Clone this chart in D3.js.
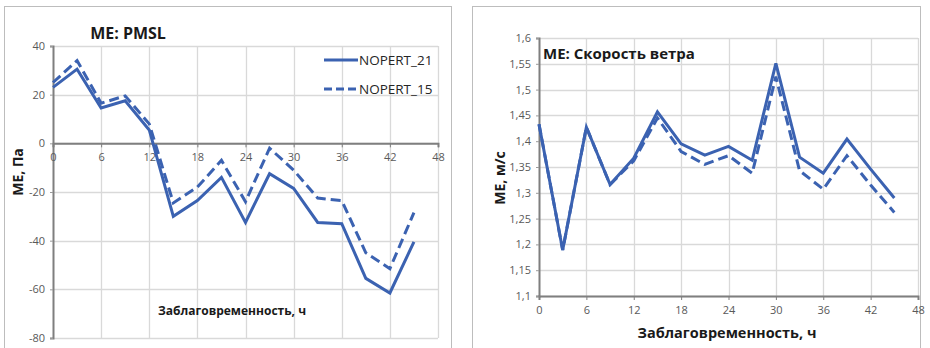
<!DOCTYPE html>
<html>
<head>
<meta charset="utf-8">
<script src="https://cdn.jsdelivr.net/npm/d3@7"></script>
<style>
  body { margin: 0; background: #fff; }
  svg { display: block; }
  text { font-family: "Open Sans", "DejaVu Sans", sans-serif; }
</style>
</head>
<body>
<svg id="chart" width="930" height="348"></svg>
<script>
// lead times, hours
const leadTimes = [0, 3, 6, 9, 12, 15, 18, 21, 24, 27, 30, 33, 36, 39, 42, 45];
const xTicks = [0, 6, 12, 18, 24, 30, 36, 42, 48];

// PMSL mean error, Pa
const pmsl21 = [23, 30.5, 14.5, 17.5, 5.5, -30, -23.5, -14, -32.5, -12.5, -18.5, -32.5, -33, -55.5, -61.5, -40.5];
const pmsl15 = [25, 34, 16.5, 19.5, 8, -24.5, -18, -7, -24, -2, -11, -22.5, -23.5, -45, -51.5, -28.5];
const pmslTicks = [40, 20, 0, -20, -40, -60, -80];

// wind speed mean error, m/s
const wind21 = [1.433, 1.189, 1.427, 1.316, 1.367, 1.457, 1.395, 1.373, 1.39, 1.363, 1.551, 1.369, 1.338, 1.404, 1.346, 1.29];
const wind15 = [1.433, 1.189, 1.427, 1.316, 1.362, 1.445, 1.38, 1.355, 1.372, 1.338, 1.525, 1.343, 1.307, 1.372, 1.315, 1.262];
const windTicks = [1.1, 1.15, 1.2, 1.25, 1.3, 1.35, 1.4, 1.45, 1.5, 1.55, 1.6];

const seriesNames = ["NOPERT_21", "NOPERT_15"];

const blue = "#3b62b1";
const fmtComma = d => String(d).replace(".", ",");

const svg = d3.select("#chart");

function drawChart(cfg) {
  const g = svg.append("g");

  // panel frame
  g.append("rect")
    .attr("x", cfg.frame[0] + 0.5).attr("y", cfg.frame[1] + 0.5)
    .attr("width", cfg.frame[2]).attr("height", cfg.frame[3])
    .attr("fill", "#fff").attr("stroke", "#bdbdbd");

  const x = d3.scaleLinear().domain([0, 48]).range([cfg.left, cfg.right]);
  const y = d3.scaleLinear().domain(cfg.yDomain).range([cfg.bottom, cfg.top]);

  // grid
  g.append("g").selectAll("line")
    .data(cfg.yTicks)
    .enter().append("line")
    .attr("x1", cfg.left).attr("x2", cfg.right)
    .attr("y1", d => Math.round(y(d)) + 0.5).attr("y2", d => Math.round(y(d)) + 0.5)
    .attr("stroke", "#d9d9d9").attr("stroke-width", 1.3);
  g.append("g").selectAll("line")
    .data(xTicks.slice(1))
    .enter().append("line")
    .attr("x1", d => Math.round(x(d)) + 0.5).attr("x2", d => Math.round(x(d)) + 0.5)
    .attr("y1", cfg.top).attr("y2", cfg.bottom)
    .attr("stroke", "#d9d9d9").attr("stroke-width", 1.3);

  // y axis
  const yAxis = g.append("g")
    .attr("transform", "translate(" + cfg.left + ",0)")
    .call(d3.axisLeft(y).tickValues(cfg.yTicks).tickSize(3).tickPadding(5).tickFormat(cfg.yFormat));
  yAxis.select(".domain").attr("stroke", "#7f7f7f").attr("stroke-width", 2);
  yAxis.selectAll(".tick line").attr("stroke", "#9a9a9a");
  yAxis.selectAll("text").attr("fill", "#595959").style("font-size", "11px")
    .style("font-family", "'Open Sans', sans-serif");

  // x axis
  const xAxis = g.append("g")
    .attr("transform", "translate(0," + y(cfg.xAxisAt) + ")")
    .call(d3.axisBottom(x).tickValues(xTicks).tickSize(4).tickPadding(6));
  xAxis.select(".domain").attr("stroke", "#7f7f7f").attr("stroke-width", 2);
  xAxis.selectAll(".tick line").attr("stroke", "#7f7f7f");
  xAxis.selectAll("text").attr("fill", "#595959").style("font-size", "11px")
    .style("font-family", "'Open Sans', sans-serif");

  // lines
  const line = d3.line()
    .x((d, i) => x(leadTimes[i]))
    .y(d => y(d));

  g.append("path")
    .datum(cfg.s15)
    .attr("d", line)
    .attr("fill", "none")
    .attr("stroke", blue)
    .attr("stroke-width", 3)
    .attr("stroke-dasharray", "10,5");

  g.append("path")
    .datum(cfg.s21)
    .attr("d", line)
    .attr("fill", "none")
    .attr("stroke", blue)
    .attr("stroke-width", 3)
    .attr("stroke-linejoin", "miter");

  // title
  g.append("text")
    .attr("x", cfg.titlePos[0]).attr("y", cfg.titlePos[1])
    .attr("text-anchor", cfg.titleAnchor)
    .style("font-size", cfg.titleSize).style("font-weight", "bold")
    .attr("fill", "#1a1a1a")
    .text(cfg.title);

  // axis titles
  g.append("text")
    .attr("x", cfg.xLabelPos[0]).attr("y", cfg.xLabelPos[1])
    .attr("text-anchor", "middle")
    .style("font-size", cfg.xLabelSize).style("font-weight", "bold")
    .attr("fill", "#1a1a1a")
    .text("Заблаговременность, ч");

  g.append("text")
    .attr("transform", "translate(" + cfg.yLabelPos[0] + "," + cfg.yLabelPos[1] + ") rotate(-90)")
    .attr("text-anchor", "middle")
    .style("font-size", "14px").style("font-weight", "bold")
    .attr("fill", "#1a1a1a")
    .text(cfg.yLabel);

  return g;
}

const left = drawChart({
  frame: [4, 6, 447, 345],
  left: 53, right: 438, top: 46, bottom: 338,
  yDomain: [-80, 40], yTicks: pmslTicks, xAxisAt: 0,
  yFormat: d => d,
  s21: pmsl21, s15: pmsl15,
  title: "ME: PMSL", titlePos: [128, 39], titleAnchor: "middle", titleSize: "16px",
  xLabelPos: [232, 315], xLabelSize: "12px",
  yLabel: "ME, Па", yLabelPos: [23, 172]
});

// legend (left chart only)
const legend = left.append("g").selectAll("g")
  .data(seriesNames)
  .enter().append("g")
  .attr("transform", (d, i) => "translate(324," + (60 + i * 29) + ")");
legend.append("line")
  .attr("x1", 0).attr("x2", 34)
  .attr("stroke", blue).attr("stroke-width", 3)
  .attr("stroke-dasharray", (d, i) => i === 0 ? null : "8,4");
legend.append("text")
  .attr("x", 35).attr("y", 5)
  .style("font-size", "13.5px")
  .attr("fill", "#262626")
  .text(d => d);

drawChart({
  frame: [472, 6, 448, 345],
  left: 539, right: 918, top: 38, bottom: 296,
  yDomain: [1.1, 1.6], yTicks: windTicks, xAxisAt: 1.1,
  yFormat: fmtComma,
  s21: wind21, s15: wind15,
  title: "ME: Скорость ветра", titlePos: [543, 59], titleAnchor: "start", titleSize: "15px",
  xLabelPos: [727, 338], xLabelSize: "14.5px",
  yLabel: "ME, м/с", yLabelPos: [505, 178]
});
</script>
</body>
</html>
